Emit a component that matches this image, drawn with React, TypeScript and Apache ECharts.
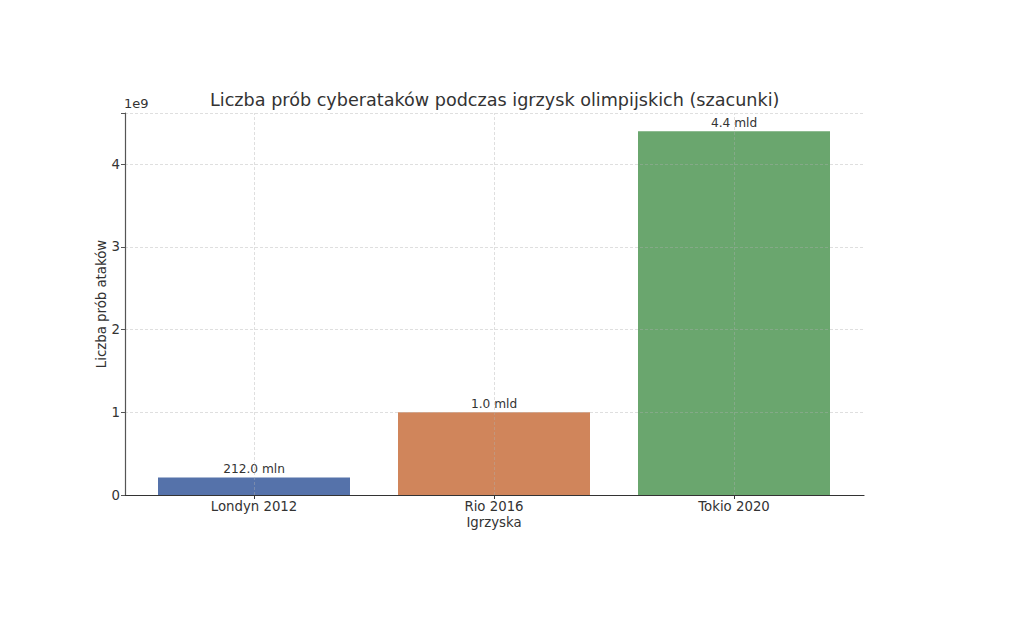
import React, { useEffect, useRef } from "react";
import * as echarts from "echarts";

const categories = ["Londyn 2012", "Rio 2016", "Tokio 2020"];
const attempts = [212e6, 1.0e9, 4.4e9];
const barColors = ["#5572AA", "#D0855B", "#6AA66E"];
const yMax = 4.62e9;
const yTickStep = 1e9;

const FONT = "DejaVu Sans";
const TXT = "#333333";
const GRIDC = "rgba(176,176,176,0.5)";

function fmt(v: number): string {
  if (v >= 1e9) return (v / 1e9).toFixed(1) + " mld";
  return (v / 1e6).toFixed(1) + " mln";
}

export default function App() {
  const ref = useRef<HTMLDivElement>(null);
  useEffect(() => {
    if (!ref.current) return;
    const chart = echarts.init(ref.current, undefined, { renderer: "svg" });
    chart.setOption({
      animation: false,
      backgroundColor: "#ffffff",
      title: {
        text: "Liczba prób cyberataków podczas igrzysk olimpijskich (szacunki)",
        left: 205,
        top: 86,
        textStyle: { fontFamily: FONT, fontSize: 17.6, fontWeight: "normal", color: TXT },
      },
      graphic: [
        {
          type: "text",
          left: 124,
          top: 97,
          style: { text: "1e9", fontFamily: FONT, fontSize: 13, fill: TXT },
        },
      ],
      grid: [
        { left: 134, right: 170, top: 113, bottom: 147, containLabel: false },
        { left: 125, right: 160, top: 113, bottom: 147, containLabel: false },
      ],
      xAxis: [
        {
          gridIndex: 0,
          type: "category",
          data: categories,
          name: "Igrzyska",
          nameLocation: "middle",
          nameGap: 21,
          nameMoveOverlap: false,
          nameTextStyle: { fontFamily: FONT, fontSize: 13.3, color: TXT },
          axisLine: { show: false },
          axisTick: { show: true, alignWithLabel: true, length: 4, lineStyle: { color: TXT } },
          axisLabel: { fontFamily: FONT, fontSize: 13.3, color: TXT, margin: 5 },
          splitLine: { show: false },
          z: 3,
        },
        {
          gridIndex: 1,
          type: "value",
          min: 0,
          max: 1,
          axisLine: { show: true, lineStyle: { color: TXT, width: 1.2 } },
          axisTick: { show: false },
          axisLabel: { show: false },
          splitLine: { show: false },
          z: 3,
        },
      ],
      yAxis: [
        {
          gridIndex: 0,
          type: "value",
          min: 0,
          max: yMax,
          show: false,
          splitLine: { show: false },
        },
        {
          gridIndex: 1,
          type: "value",
          min: 0,
          max: yMax,
          interval: yTickStep,
          name: "Liczba prób ataków",
          nameLocation: "middle",
          nameRotate: 90,
          nameGap: 17,
          nameMoveOverlap: false,
          nameTextStyle: { fontFamily: FONT, fontSize: 13.3, color: TXT },
          axisLine: { show: true, lineStyle: { color: "#555555", width: 1.2 } },
          axisTick: { show: true, length: 4, lineStyle: { color: "#555555" } },
          axisLabel: {
            fontFamily: FONT,
            fontSize: 13.3,
            color: TXT,
            margin: 5,
            formatter: (v: number) => (v % yTickStep === 0 ? String(v / yTickStep) : ""),
          },
          splitLine: { show: true, lineStyle: { color: GRIDC, type: [3, 2], width: 0.8 } },
          z: 3,
        },
      ],
      series: [
        {
          type: "bar",
          xAxisIndex: 0,
          yAxisIndex: 0,
          barWidth: "80%",
          data: attempts.map((v, i) => ({ value: v, itemStyle: { color: barColors[i] } })),
          label: {
            show: true,
            position: "top",
            distance: 2,
            formatter: (p: any) => fmt(p.value),
            fontFamily: FONT,
            fontSize: 12.2,
            color: TXT,
          },
          markLine: {
            silent: true,
            symbol: "none",
            label: { show: false },
            lineStyle: { color: GRIDC, type: [3, 2], width: 0.8 },
            data: categories.map((c) => ({ xAxis: c })),
          },
        },
      ],
    });
    return () => chart.dispose();
  }, []);
  return <div ref={ref} style={{ position: "fixed", left: 0, top: 0, width: 1024, height: 642 }} />;
}
